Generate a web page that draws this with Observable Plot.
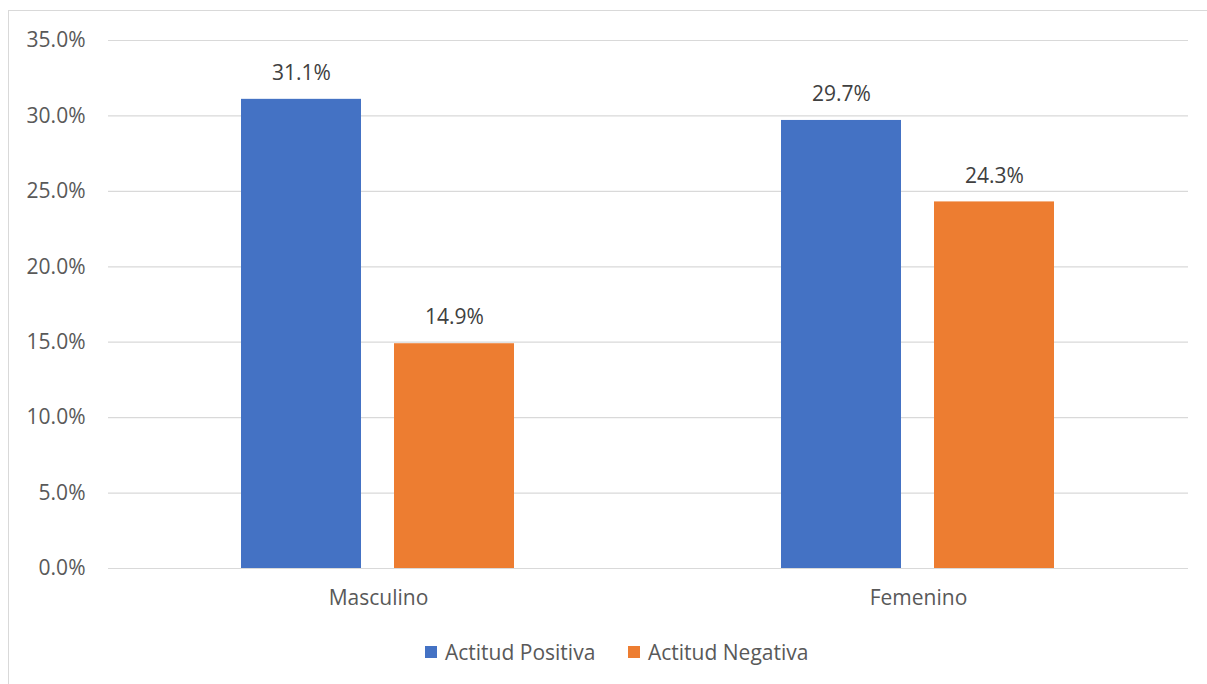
<!DOCTYPE html>
<html>
<head>
<meta charset="utf-8">
<script src="https://cdn.jsdelivr.net/npm/d3@7"></script>
<script src="https://cdn.jsdelivr.net/npm/@observablehq/plot@0.6"></script>
<style>
  html, body { margin: 0; padding: 0; background: #fff; }
  body { width: 1207px; height: 684px; position: relative; overflow: hidden; font-family: "Open Sans", sans-serif; }
  #frame { position: absolute; left: 8px; top: 10px; width: 1300px; height: 800px; border: 1px solid #d9d9d9; box-sizing: border-box; }
  #chart { position: absolute; left: 0; top: 0; }
  #legend { position: absolute; top: 638px; left: 0; width: 1207px; height: 28px; }
  .item { position: absolute; top: 0; display: flex; align-items: center; height: 28px; color: #595959; font-size: 21px; white-space: nowrap; }
  .swatch { width: 12px; height: 12px; margin-right: 8px; }
</style>
</head>
<body>
<div id="frame"></div>
<div id="chart"></div>
<div id="legend"></div>
<script>
const categories = ["Masculino", "Femenino"];
const series = ["Actitud Positiva", "Actitud Negativa"];
const positiva = [31.1, 29.7];
const negativa = [14.9, 24.3];
const yTicks = [0, 5, 10, 15, 20, 25, 30, 35];
const colors = ["#4472c4", "#ed7d31"];

const rows = categories.flatMap((cat, i) => [
  {cat, serie: series[0], value: positiva[i]},
  {cat, serie: series[1], value: negativa[i]}
]);

const fmt = d => d.toFixed(1) + "%";

const chart = Plot.plot({
  width: 1207,
  height: 620,
  marginLeft: 107,
  marginRight: 19,
  marginTop: 40,
  marginBottom: 52,
  style: {fontFamily: "'Open Sans', sans-serif", fontSize: "21px", color: "#595959", background: "transparent"},
  fx: {domain: categories, padding: 0, label: null},
  x: {domain: series, paddingInner: 0.214, paddingOuter: 0.862, axis: null},
  y: {domain: [0, 35], axis: null},
  color: {domain: series, range: colors},
  marks: [
    Plot.gridY(yTicks, {stroke: "#d9d9d9", strokeOpacity: 1, strokeWidth: 1.2}),
    Plot.axisY(yTicks, {anchor: "left", tickSize: 0, tickPadding: 23, tickFormat: fmt, fill: "#595959", fontSize: 21, label: null}),
    Plot.barY(rows, {fx: "cat", x: "serie", y: "value", fill: "serie"}),
    Plot.text(rows, {fx: "cat", x: "serie", y: "value", text: d => fmt(d.value), dy: -26, fill: "#404040", fontSize: 21}),
    Plot.axisFx({anchor: "bottom", tickSize: 0, tickPadding: 22, fill: "#595959", fontSize: 21, label: null})
  ]
});
document.getElementById("chart").appendChild(chart);

// legend under the chart
const legend = document.getElementById("legend");
const lefts = [425, 628];
series.forEach((s, i) => {
  const item = document.createElement("div");
  item.className = "item";
  item.style.left = lefts[i] + "px";
  item.innerHTML = `<div class="swatch" style="background:${colors[i]}"></div><span>${s}</span>`;
  legend.appendChild(item);
});
</script>
</body>
</html>
